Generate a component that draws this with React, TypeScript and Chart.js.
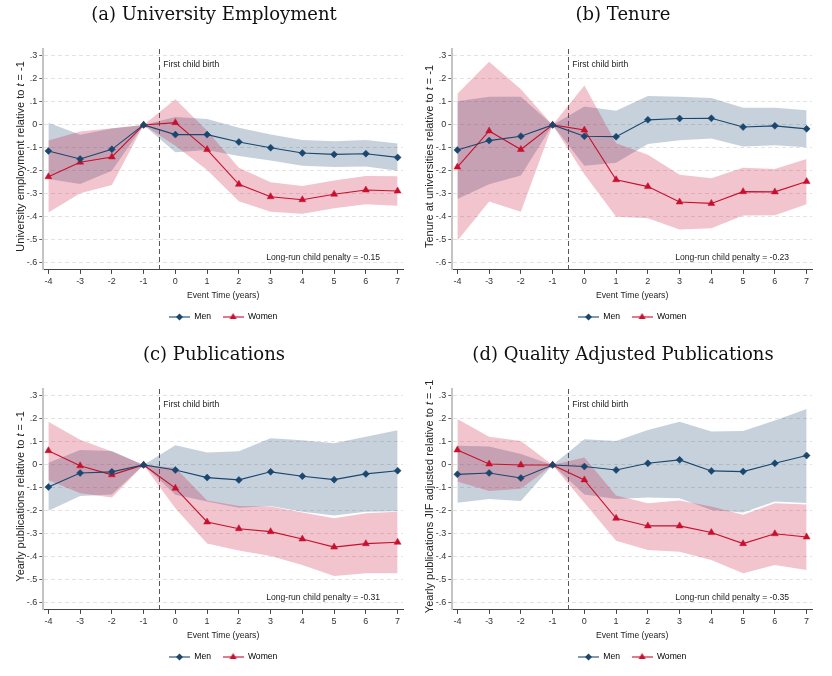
import React, { useEffect, useRef } from 'react';
import { Chart, registerables } from 'chart.js';

Chart.register(...registerables);

// ---------- data ----------
const eventTimes = [-4, -3, -2, -1, 0, 1, 2, 3, 4, 5, 6, 7];
const xTickValues = [-4, -3, -2, -1, 0, 1, 2, 3, 4, 5, 6, 7];
const yTickValues = [0.3, 0.2, 0.1, 0, -0.1, -0.2, -0.3, -0.4, -0.5, -0.6];
const yTickLabels = ['.3', '.2', '.1', '0', '-.1', '-.2', '-.3', '-.4', '-.5', '-.6'];

// (a) University Employment
const empMen = [-0.113, -0.148, -0.106, 0, -0.042, -0.042, -0.074, -0.099, -0.122, -0.128, -0.125, -0.141];
const empMenHi = [0.010, -0.043, -0.015, 0, 0.035, 0.026, -0.012, -0.042, -0.065, -0.071, -0.065, -0.081];
const empMenLo = [-0.235, -0.257, -0.199, 0, -0.119, -0.109, -0.135, -0.155, -0.177, -0.183, -0.181, -0.199];
const empWomen = [-0.225, -0.162, -0.139, 0, 0.010, -0.107, -0.258, -0.312, -0.325, -0.301, -0.283, -0.287];
const empWomenHi = [-0.068, -0.029, -0.014, 0, 0.112, -0.025, -0.186, -0.249, -0.265, -0.242, -0.222, -0.223];
const empWomenLo = [-0.381, -0.297, -0.261, 0, -0.091, -0.196, -0.332, -0.377, -0.386, -0.362, -0.345, -0.351];

// (b) Tenure
const tenMen = [-0.109, -0.068, -0.049, 0, -0.049, -0.051, 0.022, 0.028, 0.029, -0.009, -0.004, -0.017];
const tenMenHi = [0.103, 0.123, 0.123, 0, 0.080, 0.062, 0.126, 0.122, 0.117, 0.075, 0.075, 0.064];
const tenMenLo = [-0.322, -0.258, -0.220, 0, -0.177, -0.164, -0.083, -0.067, -0.059, -0.094, -0.088, -0.097];
const tenWomen = [-0.183, -0.026, -0.107, 0, -0.022, -0.238, -0.268, -0.335, -0.341, -0.290, -0.291, -0.246];
const tenWomenHi = [0.135, 0.275, 0.155, 0, 0.171, -0.080, -0.130, -0.217, -0.232, -0.186, -0.191, -0.148];
const tenWomenLo = [-0.503, -0.333, -0.377, 0, -0.214, -0.399, -0.406, -0.454, -0.449, -0.394, -0.393, -0.345];

// (c) Publications
const pubMen = [-0.096, -0.035, -0.030, 0, -0.022, -0.055, -0.065, -0.030, -0.049, -0.064, -0.039, -0.025];
const pubMenHi = [0.010, 0.065, 0.061, 0, 0.086, 0.054, 0.059, 0.116, 0.107, 0.094, 0.123, 0.151];
const pubMenLo = [-0.199, -0.135, -0.128, 0, -0.130, -0.159, -0.186, -0.178, -0.203, -0.220, -0.203, -0.201];
const pubWomen = [0.062, -0.004, -0.043, 0, -0.101, -0.248, -0.277, -0.290, -0.322, -0.357, -0.342, -0.336];
const pubWomenHi = [0.188, 0.109, 0.058, 0, -0.012, -0.155, -0.178, -0.181, -0.207, -0.232, -0.210, -0.203];
const pubWomenLo = [-0.065, -0.123, -0.142, 0, -0.188, -0.341, -0.372, -0.396, -0.435, -0.483, -0.471, -0.471];

// (d) Quality Adjusted Publications
const jifMen = [-0.041, -0.035, -0.057, 0, -0.007, -0.022, 0.007, 0.022, -0.026, -0.029, 0.007, 0.041];
const jifMenHi = [0.083, 0.080, 0.048, 0, 0.112, 0.104, 0.152, 0.188, 0.145, 0.148, 0.193, 0.243];
const jifMenLo = [-0.164, -0.148, -0.157, 0, -0.128, -0.148, -0.141, -0.145, -0.196, -0.207, -0.159, -0.165];
const jifWomen = [0.065, 0.004, 0.0, 0, -0.065, -0.232, -0.265, -0.265, -0.294, -0.342, -0.299, -0.313];
const jifWomenHi = [0.200, 0.123, 0.104, 0, 0.032, -0.133, -0.167, -0.155, -0.181, -0.217, -0.167, -0.172];
const jifWomenLo = [-0.072, -0.113, -0.104, 0, -0.164, -0.330, -0.370, -0.377, -0.413, -0.471, -0.435, -0.457];

const panelTitles = ['(a) University Employment', '(b) Tenure', '(c) Publications', '(d) Quality Adjusted Publications'];
const yAxisLabels = [
  'University employment relative to',
  'Tenure at universities relative to',
  'Yearly publications relative to',
  'Yearly publications JIF adjusted relative to',
];
const penalties = ['-0.15', '-0.23', '-0.31', '-0.35'];
const seriesNames = ['Men', 'Women'];

// ---------- style ----------
const NAVY = '#1a476f';
const RED = '#c8102e';
const NAVY_BAND = 'rgba(26,71,111,0.25)';
const RED_BAND = 'rgba(200,20,60,0.25)';
const SANS = "'Liberation Sans', Arial, sans-serif";
const SERIF = "'DejaVu Serif', 'Liberation Serif', serif";
const SMALL = 8.6;
const W = 416;
const H = 336;

const pts = (ys: number[]) => eventTimes.map((x, i) => ({ x, y: ys[i] }));

function makeIcon(color: string, kind: 'diamond' | 'triangle') {
  const c = document.createElement('canvas');
  c.width = 21;
  c.height = 10;
  const g = c.getContext('2d')!;
  g.strokeStyle = color;
  g.fillStyle = color;
  g.lineWidth = 1.1;
  g.beginPath();
  g.moveTo(0, 5);
  g.lineTo(21, 5);
  g.stroke();
  g.beginPath();
  if (kind === 'diamond') {
    g.moveTo(10.5, 1.5);
    g.lineTo(14, 5);
    g.lineTo(10.5, 8.5);
    g.lineTo(7, 5);
  } else {
    g.moveTo(10.5, 1);
    g.lineTo(14, 7);
    g.lineTo(7, 7);
  }
  g.closePath();
  g.fill();
  return c;
}

const annotPlugin = {
  id: 'annot',
  beforeDatasetsDraw(chart: any) {
    const { ctx, chartArea, scales } = chart;
    const px = scales.x.getPixelForValue(-0.5);
    ctx.save();
    ctx.strokeStyle = '#555';
    ctx.lineWidth = 1;
    ctx.setLineDash([5, 3]);
    ctx.beginPath();
    ctx.moveTo(px, chartArea.top);
    ctx.lineTo(px, chartArea.bottom);
    ctx.stroke();
    ctx.restore();
  },
  afterDraw(chart: any, _args: any, opts: any) {
    const { ctx, chartArea, scales } = chart;
    ctx.save();
    ctx.fillStyle = '#222';
    ctx.font = `${SMALL}px ${SANS}`;
    ctx.textBaseline = 'middle';
    ctx.textAlign = 'left';
    ctx.fillText('First child birth', scales.x.getPixelForValue(-0.38), scales.y.getPixelForValue(0.26));
    ctx.textAlign = 'right';
    ctx.fillText(`Long-run child penalty = ${opts.penalty}`, scales.x.getPixelForValue(6.45), scales.y.getPixelForValue(-0.578));
    // y axis title with italic t
    const size = 11;
    const fontN = `${size}px ${SANS}`;
    const fontI = `italic ${size}px ${SANS}`;
    const parts = [
      { t: opts.yLabel + ' ', f: fontN },
      { t: 't', f: fontI },
      { t: ' = -1', f: fontN },
    ];
    let total = 0;
    parts.forEach((p) => { ctx.font = p.f; total += ctx.measureText(p.t).width; });
    const cy = (chartArea.top + chartArea.bottom) / 2 - 3;
    ctx.translate(20.7, cy);
    ctx.rotate(-Math.PI / 2);
    ctx.textAlign = 'left';
    ctx.fillStyle = '#222';
    let x = -total / 2;
    parts.forEach((p) => { ctx.font = p.f; ctx.fillText(p.t, x, 0); x += ctx.measureText(p.t).width; });
    ctx.restore();
  },
};

type PanelProps = {
  title: string; yLabel: string; penalty: string;
  men: number[]; menHi: number[]; menLo: number[];
  women: number[]; womenHi: number[]; womenLo: number[];
  left: number; top: number;
};

function Panel(p: PanelProps) {
  const ref = useRef<HTMLCanvasElement>(null);
  useEffect(() => {
    const menIcon = makeIcon(NAVY, 'diamond');
    const womenIcon = makeIcon(RED, 'triangle');
    const tickFont = { family: SANS, size: 9 };
    const chart = new Chart(ref.current!, {
      type: 'line',
      data: {
        datasets: [
          {
            label: seriesNames[0], data: pts(p.men), borderColor: NAVY, backgroundColor: NAVY, borderWidth: 1.1,
            pointStyle: 'rectRot', pointRadius: 3.5, pointBackgroundColor: NAVY, pointBorderColor: NAVY, pointBorderWidth: 0.5,
            fill: false, tension: 0,
          },
          {
            label: seriesNames[1], data: pts(p.women), borderColor: RED, backgroundColor: RED, borderWidth: 1.1,
            pointStyle: 'triangle', pointRadius: 4, pointBackgroundColor: RED, pointBorderColor: RED, pointBorderWidth: 0.5,
            fill: false, tension: 0,
          },
          { label: 'Women upper', data: pts(p.womenHi), borderColor: 'rgba(0,0,0,0)', borderWidth: 0, pointRadius: 0, fill: false, tension: 0 },
          { label: 'Women lower', data: pts(p.womenLo), borderColor: 'rgba(0,0,0,0)', borderWidth: 0, pointRadius: 0, backgroundColor: RED_BAND, fill: '-1', tension: 0 },
          { label: 'Men upper', data: pts(p.menHi), borderColor: 'rgba(0,0,0,0)', borderWidth: 0, pointRadius: 0, fill: false, tension: 0 },
          { label: 'Men lower', data: pts(p.menLo), borderColor: 'rgba(0,0,0,0)', borderWidth: 0, pointRadius: 0, backgroundColor: NAVY_BAND, fill: '-1', tension: 0 },
        ],
      },
      options: {
        animation: false,
        responsive: false,
        events: [],
        layout: { padding: { left: 25, right: 13, top: 0, bottom: 4.75 } },
        scales: {
          x: {
            type: 'linear', min: -4.16, max: 7.17,
            afterBuildTicks: (s: any) => { s.ticks = xTickValues.map((v) => ({ value: v })); },
            afterFit: (s: any) => { s.height = 31.1; },
            ticks: { callback: (v: any) => String(v), font: tickFont, color: '#333', padding: 2, autoSkip: false, maxRotation: 0 },
            grid: { display: true, drawOnChartArea: false, drawTicks: true, tickLength: 4, tickColor: '#444', tickWidth: 1 },
            border: { display: true, color: '#444', width: 1 },
            title: { display: true, text: 'Event Time (years)', font: { family: SANS, size: SMALL }, color: '#222', padding: 0 },
          },
          y: {
            type: 'linear', min: -0.63, max: 0.33,
            afterBuildTicks: (s: any) => { s.ticks = yTickValues.map((v) => ({ value: v })); },
            afterFit: (s: any) => { s.width = 18.3; },
            ticks: { callback: (_v: any, i: number) => yTickLabels[i], font: tickFont, color: '#333', padding: 2, autoSkip: false },
            grid: { color: '#e2e2e2', lineWidth: 1, drawTicks: true, tickLength: 4, tickColor: '#666', tickWidth: 1, tickBorderDash: [] },
            border: { display: true, color: '#c4c4c4', width: 2, dash: [4, 3] },
          },
        },
        plugins: {
          title: {
            display: true, text: p.title, color: '#111', fullSize: true,
            font: { family: SERIF, size: 18, weight: 'normal', lineHeight: 1.2 },
            padding: { top: 4.2, bottom: 23.2 },
          },
          legend: {
            display: true, position: 'bottom', fullSize: false, align: 'center',
            labels: {
              usePointStyle: true, pointStyleWidth: 21, padding: 11.65, color: '#222',
              font: { family: SANS, size: SMALL },
              generateLabels: () => [
                { text: seriesNames[0], pointStyle: menIcon, fillStyle: NAVY, strokeStyle: NAVY, lineWidth: 0, hidden: false, datasetIndex: 0 },
                { text: seriesNames[1], pointStyle: womenIcon, fillStyle: RED, strokeStyle: RED, lineWidth: 0, hidden: false, datasetIndex: 1 },
              ],
            },
          },
          tooltip: { enabled: false },
          annot: { penalty: p.penalty, yLabel: p.yLabel },
        } as any,
      } as any,
      plugins: [annotPlugin],
    } as any);
    return () => chart.destroy();
  }, []);
  return (
    <div style={{ position: 'absolute', left: p.left, top: p.top, width: W, height: H }}>
      <canvas ref={ref} width={W} height={H} style={{ width: W, height: H, display: 'block' }} />
    </div>
  );
}

export default function App() {
  return (
    <div style={{ position: 'absolute', left: 0, top: 0, width: 832, height: 676, background: '#fff', overflow: 'hidden' }}>
      <Panel title={panelTitles[0]} yLabel={yAxisLabels[0]} penalty={penalties[0]}
        men={empMen} menHi={empMenHi} menLo={empMenLo} women={empWomen} womenHi={empWomenHi} womenLo={empWomenLo}
        left={0} top={0} />
      <Panel title={panelTitles[1]} yLabel={yAxisLabels[1]} penalty={penalties[1]}
        men={tenMen} menHi={tenMenHi} menLo={tenMenLo} women={tenWomen} womenHi={tenWomenHi} womenLo={tenWomenLo}
        left={409} top={0} />
      <Panel title={panelTitles[2]} yLabel={yAxisLabels[2]} penalty={penalties[2]}
        men={pubMen} menHi={pubMenHi} menLo={pubMenLo} women={pubWomen} womenHi={pubWomenHi} womenLo={pubWomenLo}
        left={0} top={340} />
      <Panel title={panelTitles[3]} yLabel={yAxisLabels[3]} penalty={penalties[3]}
        men={jifMen} menHi={jifMenHi} menLo={jifMenLo} women={jifWomen} womenHi={jifWomenHi} womenLo={jifWomenLo}
        left={409} top={340} />
    </div>
  );
}
